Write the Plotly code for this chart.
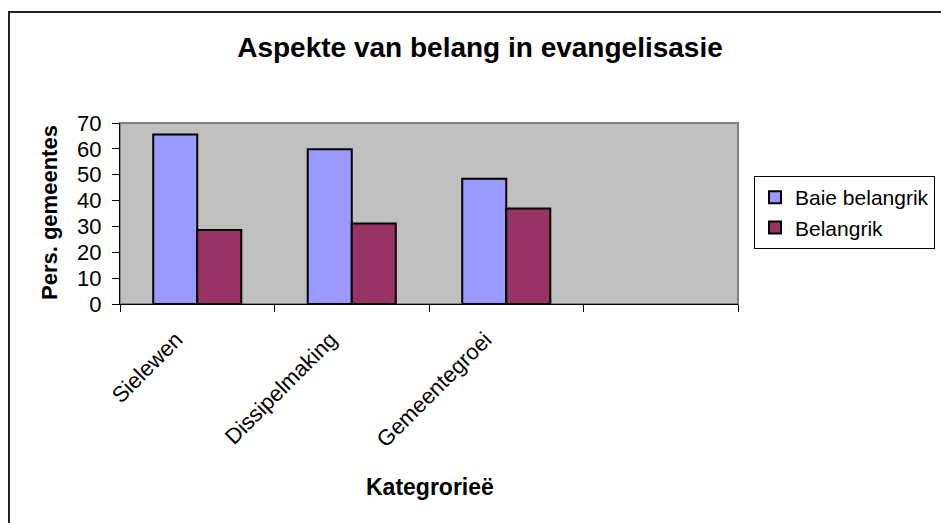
import plotly.graph_objects as go

categories = ["Sielewen", "Dissipelmaking", "Gemeentegroei", " "]
baie_belangrik = [65.6, 59.8, 48.4, None]
belangrik = [28.6, 31.1, 36.9, None]
y_ticks = [0, 10, 20, 30, 40, 50, 60, 70]

FONT = "Liberation Sans, Arial, sans-serif"

W, H = 941, 523
L, R, T, B = 120, 203, 123, 219
pw = W - L - R
ph = H - T - B

def px_x(x):
    return (x - L) / pw

def px_y(y):
    return (H - B - y) / ph

fig = go.Figure()
fig.add_trace(go.Bar(x=categories, y=baie_belangrik, name="Baie belangrik", legendgroup="a",
                     marker=dict(color="#9999FF", line=dict(color="black", width=2))))
fig.add_trace(go.Bar(x=categories, y=belangrik, name="Belangrik", legendgroup="b",
                     marker=dict(color="#993366", line=dict(color="black", width=2))))

fig.update_layout(
    width=W, height=H,
    margin=dict(l=L, r=R, t=T, b=B, autoexpand=False),
    paper_bgcolor="white", plot_bgcolor="#C0C0C0",
    barmode="group", bargap=0.43, bargroupgap=0,
    font=dict(family=FONT, size=22, color="black"),
    title=dict(text="Aspekte van belang in evangelisasie", x=480 / W, y=1 - 47 / H,
               xref="container", yref="container", xanchor="center", yanchor="middle",
               font=dict(family=FONT, size=28, color="black", weight="bold")),
    showlegend=True,
    legend=dict(x=px_x(754), y=px_y(176), xanchor="left", yanchor="top",
                bgcolor="white", bordercolor="black", borderwidth=1,
                font=dict(family=FONT, size=21, color="black"),
                traceorder="normal", tracegroupgap=5),
    xaxis=dict(type="category", categoryorder="array", categoryarray=categories,
               range=[-0.5, len(categories) - 0.5],
               tickson="boundaries", ticks="outside", ticklen=7, tickcolor="black", tickwidth=1,
               showline=True, linecolor="black", linewidth=1, showgrid=False, zeroline=False,
               tickangle=-45, ticklabelshift=-21, ticklabelstandoff=13,
               tickfont=dict(family=FONT, size=22, color="black")),
    yaxis=dict(range=[0, 70], tickvals=y_ticks, ticktext=[str(v) for v in y_ticks],
               ticks="outside", ticklen=7, tickcolor="black", tickwidth=1,
               showline=True, linecolor="black", linewidth=1, showgrid=False, zeroline=False,
               ticklabelstandoff=6,
               tickfont=dict(family=FONT, size=22, color="black")),
    shapes=[
        dict(type="rect", xref="paper", yref="paper", x0=0, x1=1, y0=0, y1=1,
             line=dict(color="#808080", width=2), fillcolor="#C0C0C0", layer="below"),
        dict(type="path", xref="paper", yref="paper",
             path=f"M {px_x(9)},{px_y(600)} L {px_x(9)},{px_y(12)} L {px_x(1000)},{px_y(12)}",
             line=dict(color="#222222", width=2)),
    ],
    annotations=[
        dict(text="Pers. gemeentes", xref="paper", yref="paper", x=px_x(49), y=px_y(213),
             xanchor="center", yanchor="middle", textangle=-90, showarrow=False,
             font=dict(family=FONT, size=22, color="black", weight="bold")),
        dict(text="Kategrorieë", xref="paper", yref="paper", x=px_x(430), y=px_y(487),
             xanchor="center", yanchor="middle", showarrow=False,
             font=dict(family=FONT, size=23, color="black", weight="bold")),
    ],
)

fig.write_html("out.html", config={"displayModeBar": False},
               post_script="document.body.style.margin='0';document.body.style.overflow='hidden';")
